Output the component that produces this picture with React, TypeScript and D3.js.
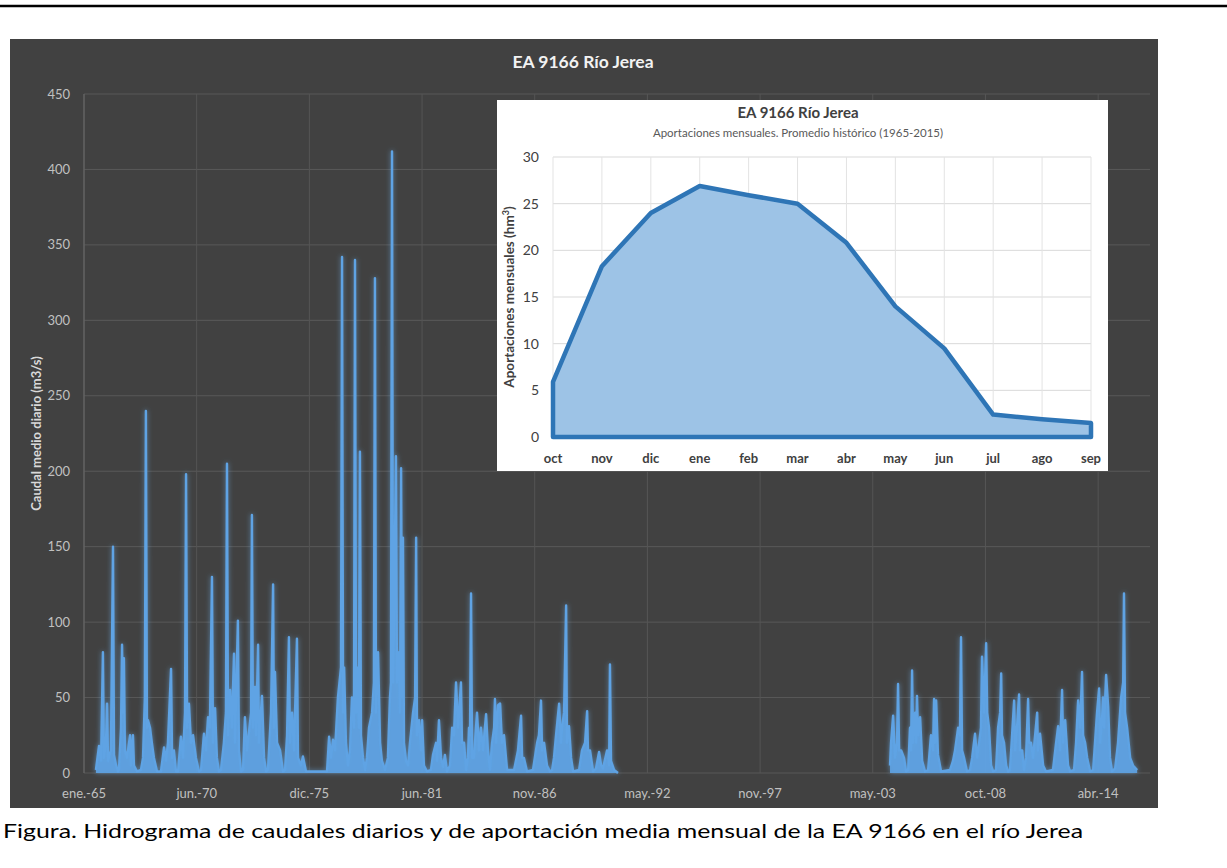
import React from "react";
import * as d3 from "d3";

// ---- Main chart: daily mean flow (m3/s), key points ----
const xTickLabels = ["ene.-65", "jun.-70", "dic.-75", "jun.-81", "nov.-86", "may.-92", "nov.-97", "may.-03", "oct.-08", "abr.-14"];
const xTickStepDays = 2000;
const yTicks = [0, 50, 100, 150, 200, 250, 300, 350, 400, 450];

// [decimal year, m3/s]
const flow1965to1990: [number, number][] = [
  [1965.58, 2], [1965.73, 18], [1965.83, 8], [1965.92, 80], [1965.97, 10], [1966.07, 20], [1966.12, 46], [1966.17, 8], [1966.31, 15], [1966.41, 150], [1966.46, 12], [1966.56, 5], [1966.65, 1],
  [1966.70, 2], [1966.80, 30], [1966.85, 85], [1966.90, 40], [1966.94, 76], [1966.99, 15], [1967.09, 10], [1967.24, 25], [1967.28, 5], [1967.38, 25], [1967.43, 5], [1967.58, 1],
  [1967.77, 2], [1967.87, 10], [1967.96, 50], [1968.01, 240], [1968.06, 30], [1968.11, 35], [1968.21, 30], [1968.30, 20], [1968.40, 10], [1968.55, 1],
  [1968.74, 1], [1968.89, 17], [1968.99, 8], [1969.08, 20], [1969.23, 69], [1969.28, 10], [1969.37, 15], [1969.47, 1],
  [1969.57, 1], [1969.71, 24], [1969.81, 10], [1969.91, 40], [1969.96, 198], [1970.01, 30], [1970.10, 46], [1970.20, 20], [1970.30, 25], [1970.44, 10], [1970.59, 1],
  [1970.69, 2], [1970.83, 26], [1970.93, 15], [1971.03, 37], [1971.12, 30], [1971.22, 130], [1971.27, 20], [1971.37, 43], [1971.46, 10], [1971.56, 1],
  [1971.66, 2], [1971.80, 20], [1971.90, 40], [1971.95, 205], [1972.00, 25], [1972.10, 55], [1972.19, 30], [1972.29, 79], [1972.34, 20], [1972.48, 101], [1972.53, 15], [1972.63, 1],
  [1972.73, 2], [1972.82, 37], [1972.92, 15], [1973.12, 40], [1973.16, 171], [1973.21, 30], [1973.31, 57], [1973.36, 25], [1973.46, 85], [1973.50, 20], [1973.65, 51], [1973.75, 10], [1973.85, 1],
  [1973.94, 2], [1974.09, 40], [1974.19, 125], [1974.23, 30], [1974.28, 67], [1974.38, 20], [1974.53, 15], [1974.67, 1],
  [1974.77, 2], [1974.87, 25], [1974.96, 90], [1975.01, 20], [1975.11, 40], [1975.21, 15], [1975.35, 89], [1975.40, 10], [1975.55, 5], [1975.64, 11], [1975.79, 1],
  [1976.81, 1], [1976.91, 24], [1977.00, 10], [1977.10, 22], [1977.20, 15], [1977.34, 50], [1977.49, 70], [1977.54, 342], [1977.59, 40], [1977.64, 70], [1977.73, 20], [1977.83, 5],
  [1977.93, 15], [1978.02, 50], [1978.12, 30], [1978.17, 340], [1978.22, 40], [1978.27, 70], [1978.36, 30], [1978.41, 213], [1978.46, 25], [1978.56, 10], [1978.66, 2],
  [1978.75, 10], [1978.85, 30], [1979.00, 40], [1979.09, 60], [1979.14, 328], [1979.19, 40], [1979.29, 80], [1979.39, 20], [1979.48, 8], [1979.63, 2],
  [1979.77, 10], [1979.87, 50], [1979.92, 60], [1979.97, 412], [1980.02, 60], [1980.07, 100], [1980.16, 210], [1980.21, 60], [1980.31, 80], [1980.36, 40], [1980.41, 202], [1980.46, 50], [1980.50, 156], [1980.55, 20], [1980.65, 8],
  [1980.75, 5], [1980.84, 20], [1980.99, 40], [1981.09, 50], [1981.14, 156], [1981.18, 25], [1981.28, 35], [1981.38, 15], [1981.43, 35], [1981.52, 5], [1981.67, 1],
  [1981.86, 2], [1981.96, 12], [1982.11, 20], [1982.16, 8], [1982.25, 35], [1982.35, 10], [1982.45, 4], [1982.54, 12], [1982.64, 1],
  [1982.79, 5], [1982.89, 30], [1982.98, 25], [1983.08, 60], [1983.18, 30], [1983.23, 40], [1983.32, 60], [1983.37, 20], [1983.47, 20], [1983.57, 2],
  [1983.66, 10], [1983.71, 30], [1983.76, 25], [1983.81, 119], [1983.86, 10], [1983.95, 10], [1984.10, 40], [1984.20, 15], [1984.29, 30], [1984.39, 15], [1984.54, 39], [1984.63, 15], [1984.73, 2],
  [1984.83, 20], [1984.93, 30], [1984.97, 49], [1985.02, 20], [1985.12, 45], [1985.22, 46], [1985.31, 20], [1985.41, 25], [1985.56, 2],
  [1985.90, 2], [1986.09, 15], [1986.24, 38], [1986.29, 10], [1986.38, 10], [1986.53, 1],
  [1986.82, 2], [1987.02, 20], [1987.11, 25], [1987.21, 48], [1987.26, 15], [1987.36, 20], [1987.50, 5], [1987.65, 1],
  [1987.75, 2], [1987.84, 10], [1987.94, 25], [1988.09, 46], [1988.18, 20], [1988.23, 30], [1988.33, 40], [1988.43, 111], [1988.47, 20], [1988.57, 31], [1988.67, 10], [1988.77, 1],
  [1989.06, 2], [1989.20, 15], [1989.35, 20], [1989.45, 41], [1989.49, 15], [1989.59, 15], [1989.74, 1],
  [1989.88, 3], [1990.03, 14], [1990.13, 5], [1990.22, 3], [1990.42, 15], [1990.52, 5], [1990.56, 72], [1990.61, 8], [1990.76, 2], [1990.95, 0],
];

const flow2004to2016: [number, number][] = [
  [2004.17, 5], [2004.22, 20], [2004.32, 38], [2004.41, 10], [2004.51, 20], [2004.56, 59], [2004.61, 15], [2004.71, 15], [2004.85, 10], [2004.95, 1],
  [2005.05, 2], [2005.14, 30], [2005.19, 15], [2005.24, 68], [2005.29, 20], [2005.39, 40], [2005.44, 20], [2005.48, 51], [2005.53, 25], [2005.63, 37], [2005.73, 8], [2005.87, 1],
  [2006.02, 2], [2006.16, 25], [2006.26, 15], [2006.31, 49], [2006.36, 20], [2006.41, 48], [2006.50, 12], [2006.65, 1],
  [2007.09, 2], [2007.23, 8], [2007.33, 15], [2007.48, 30], [2007.57, 25], [2007.62, 90], [2007.67, 15], [2007.77, 10], [2007.91, 1],
  [2008.06, 2], [2008.16, 10], [2008.30, 26], [2008.40, 10], [2008.50, 20], [2008.59, 30], [2008.64, 77], [2008.74, 40], [2008.84, 86], [2008.89, 40], [2008.98, 30], [2009.08, 5], [2009.18, 1],
  [2009.32, 2], [2009.42, 30], [2009.52, 40], [2009.57, 66], [2009.61, 25], [2009.71, 20], [2009.81, 5], [2009.91, 1],
  [2010.00, 2], [2010.10, 25], [2010.20, 48], [2010.25, 15], [2010.34, 30], [2010.44, 52], [2010.49, 15], [2010.59, 15], [2010.68, 2],
  [2010.78, 10], [2010.88, 49], [2010.93, 20], [2011.02, 20], [2011.12, 10], [2011.22, 25], [2011.32, 40], [2011.36, 15], [2011.46, 26], [2011.61, 5], [2011.75, 1],
  [2012.09, 2], [2012.24, 20], [2012.34, 31], [2012.43, 15], [2012.53, 55], [2012.58, 20], [2012.68, 35], [2012.82, 5], [2012.92, 1],
  [2013.11, 2], [2013.21, 20], [2013.31, 48], [2013.41, 30], [2013.50, 67], [2013.55, 25], [2013.65, 20], [2013.75, 10], [2013.89, 1],
  [2014.04, 2], [2014.13, 20], [2014.23, 40], [2014.33, 56], [2014.38, 20], [2014.47, 35], [2014.52, 50], [2014.57, 30], [2014.67, 65], [2014.77, 44], [2014.86, 10], [2014.96, 1],
  [2015.11, 3], [2015.25, 20], [2015.35, 40], [2015.40, 50], [2015.50, 60], [2015.54, 119], [2015.59, 40], [2015.69, 30], [2015.84, 10], [2015.98, 5], [2016.18, 2],
];

// ---- Inset: mean monthly contributions (hm3), 1965-2015 ----
const months = ["oct", "nov", "dic", "ene", "feb", "mar", "abr", "may", "jun", "jul", "ago", "sep"];
const monthlyMean = [5.9, 18.3, 24.0, 26.9, 25.9, 25.0, 20.8, 14.0, 9.5, 2.4, 1.9, 1.5];
const insetYTicks = [0, 5, 10, 15, 20, 25, 30];

const FONT = "Lato, 'Open Sans', sans-serif";

function toDate(y: number): Date {
  const yr = Math.floor(y);
  const s = Date.UTC(yr, 0, 1);
  const e = Date.UTC(yr + 1, 0, 1);
  return new Date(s + (y - yr) * (e - s));
}

export default function App() {
  // main chart geometry
  const left = 84, right = 1145, top = 94, bottom = 773;
  const axisStart = new Date(Date.UTC(1965, 0, 1));
  const x = d3.scaleUtc().domain([axisStart, toDate(2016.56)]).range([left, right]);
  const y = d3.scaleLinear().domain([0, 450]).range([bottom, top]);

  const tickDates = xTickLabels.map((_, i) => d3.utcDay.offset(axisStart, i * xTickStepDays));

  type P = [number, number] | null;
  const series: P[] = [...flow1965to1990, null, ...flow2004to2016];
  const line = d3.line<P>()
    .defined((d) => d !== null)
    .x((d) => x(toDate((d as [number, number])[0])))
    .y((d) => y((d as [number, number])[1]));
  const area = d3.area<P>()
    .defined((d) => d !== null)
    .x((d) => x(toDate((d as [number, number])[0])))
    .y0(y(0))
    .y1((d) => y((d as [number, number])[1]));

  // inset geometry
  const ix = d3.scalePoint<string>().domain(months).range([553, 1091]);
  const iy = d3.scaleLinear().domain([0, 30]).range([437, 157]);
  const insetArea = d3.area<number>()
    .x((_, i) => ix(months[i]) as number)
    .y0(iy(0))
    .y1((d) => iy(d));
  const insetPath = insetArea(monthlyMean) as string;

  const blue = "#5ea3e4";

  return (
    <svg width={1227} height={868} style={{ position: "absolute", left: 0, top: 0, background: "#fff" }} fontFamily={FONT}>
      <defs>
        <filter id="glow" x="-5%" y="-5%" width="110%" height="110%">
          <feGaussianBlur in="SourceAlpha" stdDeviation="2.6" result="blur" />
          <feFlood floodColor="#6fb4f4" floodOpacity="0.6" result="c" />
          <feComposite in="c" in2="blur" operator="in" result="glow" />
          <feMerge>
            <feMergeNode in="glow" />
            <feMergeNode in="SourceGraphic" />
          </feMerge>
        </filter>
      </defs>

      {/* top rule */}
      <line x1={0} x2={1227} y1={6} y2={6} stroke="#000" strokeWidth={2.5} />

      {/* chart background */}
      <rect x={10} y={39} width={1148} height={769} fill="#414141" />

      {/* title */}
      <text x={583} y={68} textAnchor="middle" fontSize={17.5} fontWeight="bold" fill="#f2f2f2">EA 9166 Río Jerea</text>

      {/* gridlines */}
      {yTicks.map((t) => (
        <line key={"gy" + t} x1={left} x2={right + 5} y1={y(t)} y2={y(t)} stroke="#595959" strokeWidth={1} />
      ))}
      {tickDates.map((d, i) => (
        <line key={"gx" + i} x1={x(d)} x2={x(d)} y1={top} y2={bottom} stroke="#555" strokeWidth={1} />
      ))}
      <line x1={left} x2={left} y1={top} y2={bottom} stroke="#6a6a6a" strokeWidth={1} />

      {/* y ticks */}
      {yTicks.map((t) => (
        <text key={"ty" + t} x={70} y={y(t) + 4.5} textAnchor="end" fontSize={13} fill="#c0c0c0">{t}</text>
      ))}
      {/* x ticks */}
      {tickDates.map((d, i) => (
        <text key={"tx" + i} x={x(d)} y={798} textAnchor="middle" fontSize={13} fill="#c0c0c0">{xTickLabels[i]}</text>
      ))}
      <text transform={`translate(41,${(top + bottom) / 2}) rotate(-90)`} textAnchor="middle" fontSize={13} fontWeight="bold" fill="#d9d9d9">
        Caudal medio diario (m3/s)
      </text>

      {/* series */}
      <g filter="url(#glow)">
        <path d={area(series) as string} fill={blue} fillOpacity={0.9} />
        <path d={line(series) as string} fill="none" stroke={blue} strokeWidth={2.4} strokeLinejoin="round" />
      </g>

      {/* inset */}
      <rect x={497} y={100} width={611} height={371} fill="#ffffff" />
      <text x={798} y={118} textAnchor="middle" fontSize={15} fontWeight="bold" fill="#404040">EA 9166 Río Jerea</text>
      <text x={798} y={137} textAnchor="middle" fontSize={11.5} fill="#595959">Aportaciones mensuales. Promedio histórico (1965-2015)</text>
      {insetYTicks.map((t) => (
        <line key={"igy" + t} x1={553} x2={1091} y1={iy(t)} y2={iy(t)} stroke="#d9d9d9" strokeWidth={1} />
      ))}
      {months.map((m) => (
        <line key={"igx" + m} x1={ix(m)} x2={ix(m)} y1={iy(30)} y2={iy(0)} stroke="#e3e3e3" strokeWidth={1} />
      ))}
      <path d={insetPath} fill="#9dc3e6" stroke="#2e75b6" strokeWidth={4.5} strokeLinejoin="round" />
      {insetYTicks.map((t) => (
        <text key={"ity" + t} x={539} y={iy(t) + 5} textAnchor="end" fontSize={14} fill="#404040">{t}</text>
      ))}
      {months.map((m) => (
        <text key={"itx" + m} x={ix(m)} y={463} textAnchor="middle" fontSize={13} fontWeight="bold" fill="#404040">{m}</text>
      ))}
      <text transform={`translate(514,${(iy(0) + iy(30)) / 2}) rotate(-90)`} textAnchor="middle" fontSize={13.5} fontWeight="bold" fill="#404040">
        Aportaciones mensuales (hm<tspan fontSize={9} dy={-5}>3</tspan><tspan dy={5}>)</tspan>
      </text>

      {/* caption */}
      <text x={3} y={838} fontSize={20} fill="#000" textLength={1080} lengthAdjust="spacingAndGlyphs">
        Figura. Hidrograma de caudales diarios y de aportación media mensual de la EA 9166 en el río Jerea
      </text>
    </svg>
  );
}
